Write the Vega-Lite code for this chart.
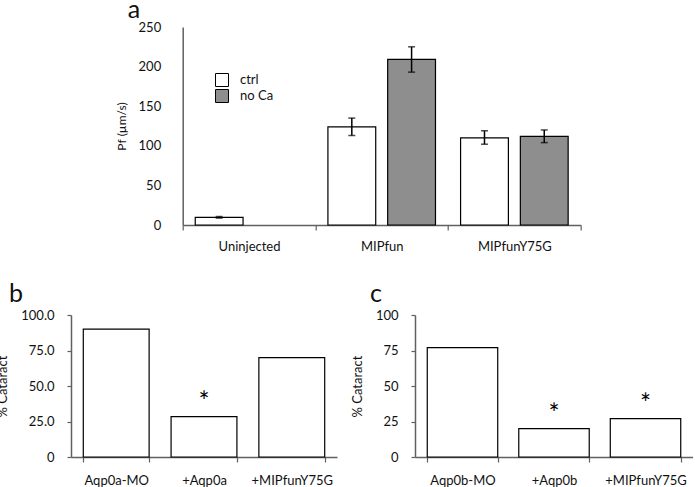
{
  "$schema": "https://vega.github.io/schema/vega-lite/v6.json",
  "padding": {"left": -4, "top": -2, "right": 0, "bottom": 0},
  "center": true,
  "spacing": 29,
  "config": {
    "font": "Lato",
    "view": {"stroke": null},
    "axis": {"domainColor": "#606060", "domainWidth": 1.5, "tickColor": "#606060", "tickWidth": 1.2, "labelColor": "#111111", "titleColor": "#111111", "labelFont": "Lato", "titleFont": "Lato", "labelFontSize": 13, "titleFontWeight": "normal", "grid": false, "labelOverlap": false},
    "title": {"font": "Lato", "fontWeight": "normal", "color": "#111111"}
  },
  "vconcat": [
    {
      "width": 398,
      "height": 198,
      "title": {"text": "a", "anchor": "start", "frame": "group", "fontSize": 25, "dx": -55, "dy": 28, "offset": 6, "baseline": "alphabetic"},
      "data": {"values": [
        {"group": "Uninjected", "cond": "ctrl", "pf": 9.7, "lo": 8.7, "hi": 10.7},
        {"group": "MIPfun", "cond": "ctrl", "pf": 124, "lo": 113, "hi": 135},
        {"group": "MIPfun", "cond": "no Ca", "pf": 209, "lo": 193, "hi": 225},
        {"group": "MIPfunY75G", "cond": "ctrl", "pf": 110, "lo": 102, "hi": 119},
        {"group": "MIPfunY75G", "cond": "no Ca", "pf": 112, "lo": 104, "hi": 120}
      ]},
      "encoding": {
        "x": {"field": "group", "type": "nominal", "sort": ["Uninjected", "MIPfun", "MIPfunY75G"], "scale": {"paddingInner": 0, "paddingOuter": 0}, "axis": {"title": null, "labelAngle": 0, "tickBand": "extent", "tickSize": 5, "labelPadding": 10}},
        "xOffset": {"field": "cond", "type": "nominal", "scale": {"domain": ["ctrl", "no Ca"], "paddingInner": 0.2, "paddingOuter": 0.21}},
        "y": {"field": "pf", "type": "quantitative", "scale": {"domain": [0, 250]}, "axis": {"title": "Pf (µm/s)", "values": [0, 50, 100, 150, 200, 250], "ticks": false, "labelPadding": 22, "titleFontSize": 12, "titlePadding": 10}}
      },
      "layer": [
        {
          "mark": {"type": "bar", "stroke": "black", "strokeWidth": 1.2},
          "encoding": {
            "fill": {"field": "cond", "type": "nominal", "scale": {"domain": ["ctrl", "no Ca"], "range": ["#ffffff", "#8e8e8e"]}, "legend": {"title": null, "orient": "none", "legendX": 144, "legendY": 46, "symbolType": "square", "symbolSize": 169, "symbolStrokeColor": "black", "symbolStrokeWidth": 1, "symbolOpacity": 1, "labelFontSize": 13, "rowPadding": -2, "labelOffset": 11, "labelColor": "#111111"}}
          }
        },
        {
          "mark": {"type": "rule", "strokeWidth": 1.5, "color": "black"},
          "encoding": {"y": {"field": "lo", "type": "quantitative"}, "y2": {"field": "hi"}}
        },
        {
          "mark": {"type": "tick", "size": 7, "thickness": 1.5, "color": "black"},
          "encoding": {"y": {"field": "lo", "type": "quantitative"}}
        },
        {
          "mark": {"type": "tick", "size": 7, "thickness": 1.5, "color": "black"},
          "encoding": {"y": {"field": "hi", "type": "quantitative"}}
        }
      ]
    },
    {
      "spacing": 14,
      "hconcat": [
        {
          "width": 266,
          "height": 142,
          "title": {"text": "b", "anchor": "start", "frame": "group", "fontSize": 25, "dx": -62, "dy": 24, "offset": 6, "baseline": "alphabetic"},
          "data": {"values": [
            {"group": "Aqp0a-MO", "pct": 90, "sig": ""},
            {"group": "+Aqp0a", "pct": 28.5, "sig": "*"},
            {"group": "+MIPfunY75G", "pct": 70, "sig": ""}
          ]},
          "encoding": {
            "x": {"field": "group", "type": "nominal", "sort": null, "scale": {"paddingInner": 0.25, "paddingOuter": 0.14}, "axis": {"title": null, "labelAngle": 0, "tickBand": "extent", "tickSize": 5, "labelPadding": 12}},
            "y": {"field": "pct", "type": "quantitative", "scale": {"domain": [0, 100]}, "axis": {"title": "% Cataract", "values": [0, 25, 50, 75, 100], "labelExpr": "datum.value == 0 ? '0' : format(datum.value, '.1f')", "tickSize": 4, "labelPadding": 13, "titleFontSize": 13, "titlePadding": 11}}
          },
          "layer": [
            {"mark": {"type": "bar", "fill": "white", "stroke": "black", "strokeWidth": 1.2}},
            {"transform": [{"filter": "datum.sig != ''"}], "mark": {"type": "text", "fontSize": 26, "dy": -6, "baseline": "alphabetic", "color": "black"}, "encoding": {"text": {"field": "sig"}}}
          ]
        },
        {
          "width": 278,
          "height": 142,
          "title": {"text": "c", "anchor": "start", "frame": "group", "fontSize": 25, "dx": -45, "dy": 24, "offset": 6, "baseline": "alphabetic"},
          "data": {"values": [
            {"group": "Aqp0b-MO", "pct": 77, "sig": ""},
            {"group": "+Aqp0b", "pct": 20, "sig": "*"},
            {"group": "+MIPfunY75G", "pct": 27, "sig": "*"}
          ]},
          "encoding": {
            "x": {"field": "group", "type": "nominal", "sort": null, "scale": {"paddingInner": 0.23, "paddingOuter": 0.134}, "axis": {"title": null, "labelAngle": 0, "tickBand": "extent", "tickSize": 5, "labelPadding": 12}},
            "y": {"field": "pct", "type": "quantitative", "scale": {"domain": [0, 100]}, "axis": {"title": "% Cataract", "values": [0, 25, 50, 75, 100], "tickSize": 4, "labelPadding": 13, "titleFontSize": 13, "titlePadding": 11}}
          },
          "layer": [
            {"mark": {"type": "bar", "fill": "white", "stroke": "black", "strokeWidth": 1.2}},
            {"transform": [{"filter": "datum.sig != ''"}], "mark": {"type": "text", "fontSize": 26, "dy": -6, "baseline": "alphabetic", "color": "black"}, "encoding": {"text": {"field": "sig"}}}
          ]
        }
      ]
    }
  ]
}
